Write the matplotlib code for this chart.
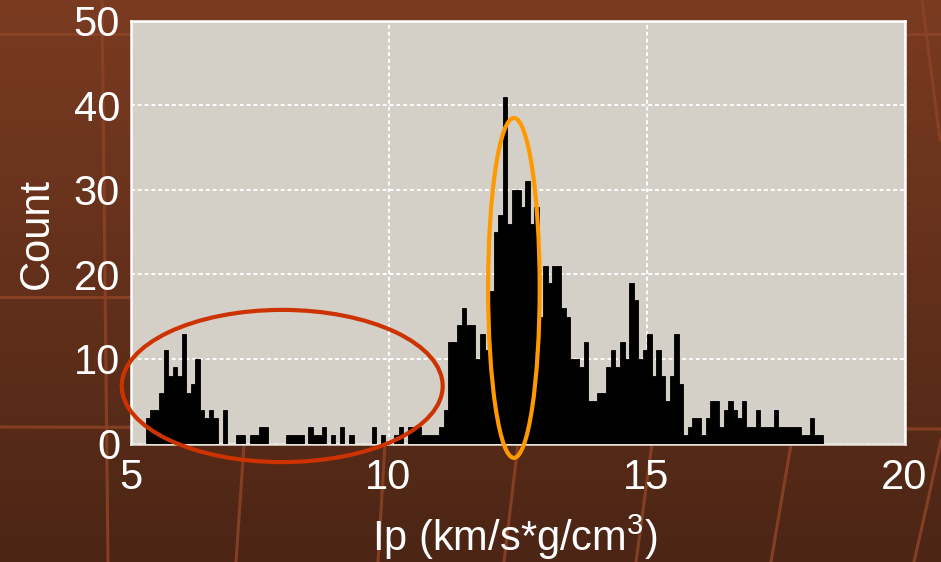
import numpy as np
import matplotlib
matplotlib.use("Agg")
import matplotlib.pyplot as plt
from matplotlib.patches import Ellipse
from matplotlib.lines import Line2D

# ---- data ----
bin_start = 5.295
bin_end = 18.426
counts = [3, 4, 4, 6, 11, 8, 9, 8, 13, 6,
          7, 10, 4, 3, 4, 3, 0, 4, 0, 0,
          1, 1, 0, 1, 1, 2, 2, 0, 0, 0,
          0, 1, 1, 1, 1, 0, 2, 1, 1, 2,
          0, 1, 0, 2, 0, 1, 0, 0, 0, 0,
          2, 0, 1, 0, 0, 1, 2, 0, 2, 2,
          2, 1, 1, 1, 1, 2, 4, 12, 12, 14,
          16, 14, 14, 10, 13, 11, 18, 25, 27, 41,
          26, 30, 30, 28, 31, 26, 28, 15, 21, 19,
          21, 21, 16, 15, 10, 10, 9, 12, 5, 5,
          6, 6, 9, 11, 9, 12, 10, 19, 17, 10,
          11, 13, 8, 11, 8, 5, 8, 13, 7, 1,
          2, 3, 3, 1, 3, 5, 5, 2, 4, 5,
          4, 3, 5, 2, 2, 4, 2, 2, 2, 4,
          2, 2, 2, 2, 2, 1, 1, 3, 1, 1]
x_ticks = [5, 10, 15, 20]
y_ticks = [0, 10, 20, 30, 40, 50]
x_label = "Ip (km/s*g/cm$^{3}$)"
y_label = "Count"

plt.rcParams['font.family'] = ['Liberation Sans', 'DejaVu Sans']
plt.rcParams['mathtext.fontset'] = 'custom'
plt.rcParams['mathtext.rm'] = 'Liberation Sans'
plt.rcParams['mathtext.it'] = 'Liberation Sans'

W, H = 941, 562
fig = plt.figure(figsize=(W / 100, H / 100), dpi=100)

# background gradient
bg = fig.add_axes([0, 0, 1, 1], zorder=-10)
top = np.array([0x7a, 0x3b, 0x21]) / 255
bot = np.array([0x4c, 0x25, 0x15]) / 255
t = np.linspace(0, 1, 256)[:, None]
grad = top[None, :] * (1 - t) + bot[None, :] * t
bg.imshow(grad[:, None, :].repeat(2, axis=1), aspect='auto', extent=[0, W, H, 0])
bg.set_xlim(0, W)
bg.set_ylim(H, 0)
bg.axis('off')
deco = '#8a4225'
for xs, ys in [([0, W], [34, 34]), ([0, W], [427, 429]), ([0, 130], [297, 297]),
               ([102, 108], [0, H]), ([244, 236], [444, H]),
               ([385, 378], [444, H]), ([518, 504], [444, H]),
               ([652, 636], [444, H]), ([791, 771], [444, H]),
               ([922, 940], [0, 140]), ([941, 928, 914], [440, 500, H])]:
    bg.add_line(Line2D(xs, ys, color=deco, lw=2.2, alpha=0.9))

# main axes
left, right, topp, bottom = 130.5, 904.5, 20.7, 443.5
ax = fig.add_axes([left / W, 1 - bottom / H, (right - left) / W, (bottom - topp) / H])
ax.set_facecolor('#d4d0c8')

edges = np.linspace(bin_start, bin_end, len(counts) + 1)
widths = np.diff(edges)
ax.bar(edges[:-1], counts, width=widths, align='edge', color='black',
       edgecolor='black', linewidth=0.6, zorder=3)

ax.set_xlim(5, 20)
ax.set_ylim(0, 50)
ax.set_xticks(x_ticks)
ax.set_yticks(y_ticks)
ax.grid(True, color='white', linestyle=(0, (2, 1.5)), linewidth=1.4, zorder=1)
ax.set_axisbelow(True)
ax.tick_params(length=0, labelsize=30, labelcolor='white')
ax.tick_params(axis='x', pad=10.5)
ax.tick_params(axis='y', pad=7.5)
for s in ax.spines.values():
    s.set_color('white')
    s.set_linewidth(1.8)
ax.spines['bottom'].set_color('#e8e4dc')

fig.text(515 / W, 1 - 551 / H, x_label, fontsize=30, color='white',
         ha='center', va='baseline')
fig.text(37 / W, 1 - 233 / H, y_label, fontsize=30, color='white',
         ha='center', va='center', rotation=90)

# highlight ellipses
ax.add_patch(Ellipse((7.94, 6.8), 6.22, 18.0, fill=False, edgecolor='#cc3300',
                     linewidth=3.0, clip_on=False, zorder=5))
ax.add_patch(Ellipse((12.43, 18.4), 1.0, 40.2, fill=False, edgecolor='#ff9900',
                     linewidth=3.0, clip_on=False, zorder=5))

fig.savefig('out.png', dpi=100, facecolor=fig.get_facecolor())
